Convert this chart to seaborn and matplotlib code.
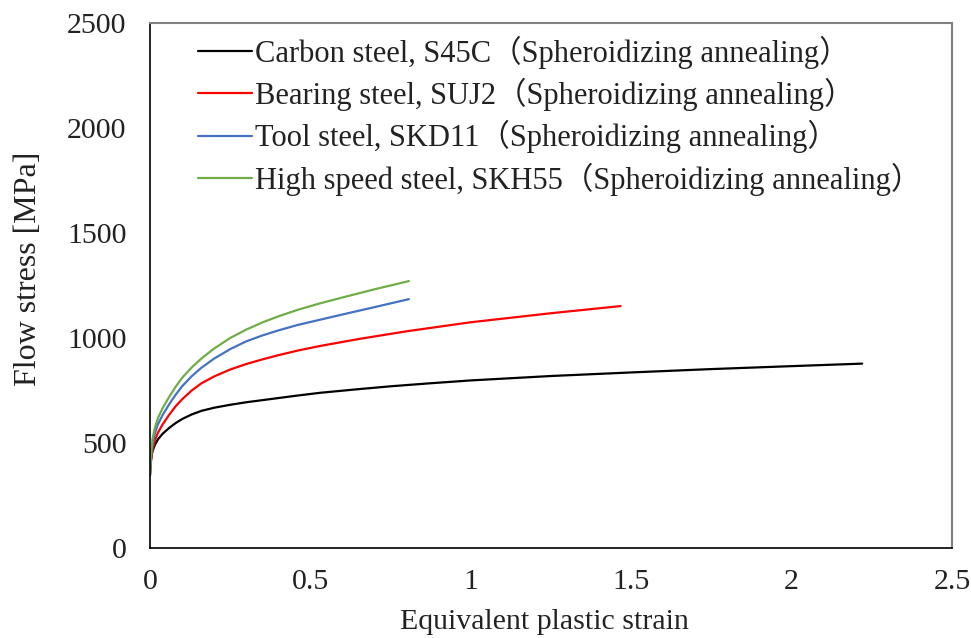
import numpy as np
import pandas as pd
import matplotlib
matplotlib.use("Agg")
import matplotlib.pyplot as plt
import seaborn as sns

# ---- data ----
labels = [
    "Carbon steel, S45C（Spheroidizing annealing）",
    "Bearing steel, SUJ2（Spheroidizing annealing）",
    "Tool steel, SKD11（Spheroidizing annealing）",
    "High speed steel, SKH55（Spheroidizing annealing）",
]
colors = ["#000000", "#FF0000", "#4472C4", "#70AD47"]

s45c_strain = [0, 0.002, 0.005, 0.008, 0.015, 0.025, 0.04, 0.06, 0.08, 0.1, 0.13, 0.16, 0.2, 0.25,
               0.3, 0.35, 0.4, 0.46, 0.53, 0.64, 0.75, 0.87, 1.0, 1.25, 1.5, 1.75, 2.0, 2.22]
s45c_stress = [350, 405, 440, 462, 490, 518, 545, 572, 595, 614, 636, 653, 668, 682,
               694, 704, 714, 726, 739, 755, 770, 784, 798, 819, 836, 852, 866, 878]

suj2_strain = [0, 0.002, 0.005, 0.008, 0.015, 0.025, 0.04, 0.06, 0.08, 0.1, 0.13, 0.16, 0.2, 0.25,
               0.3, 0.35, 0.4, 0.46, 0.53, 0.65, 0.8, 1.0, 1.25, 1.467]
suj2_stress = [345, 400, 440, 470, 512, 550, 590, 635, 675, 708, 750, 784, 817, 850,
               876, 898, 918, 940, 962, 995, 1032, 1075, 1118, 1152]

skd11_strain = [0, 0.002, 0.005, 0.008, 0.015, 0.025, 0.04, 0.06, 0.08, 0.1, 0.13, 0.16, 0.2, 0.25,
                0.3, 0.35, 0.4, 0.46, 0.53, 0.6, 0.7, 0.807]
skd11_stress = [345, 410, 460, 495, 545, 590, 635, 685, 730, 770, 818, 858, 902, 947,
                984, 1012, 1036, 1062, 1087, 1112, 1147, 1185]

skh55_strain = [0, 0.002, 0.005, 0.008, 0.015, 0.025, 0.04, 0.06, 0.08, 0.1, 0.13, 0.16, 0.2, 0.25,
                0.3, 0.35, 0.4, 0.46, 0.53, 0.6, 0.7, 0.807]
skh55_stress = [360, 425, 480, 520, 572, 620, 668, 720, 768, 810, 860, 902, 950, 1000,
                1040, 1074, 1103, 1134, 1165, 1193, 1232, 1271]

x_ticks = [0, 0.5, 1, 1.5, 2, 2.5]
x_ticklabels = ["0", "0.5", "1", "1.5", "2", "2.5"]
y_ticks = [0, 500, 1000, 1500, 2000, 2500]

series = [
    (labels[0], s45c_strain, s45c_stress),
    (labels[1], suj2_strain, suj2_stress),
    (labels[2], skd11_strain, skd11_stress),
    (labels[3], skh55_strain, skh55_stress),
]
frames = [pd.DataFrame({"strain": s, "stress": v, "material": name}) for name, s, v in series]
df = pd.concat(frames, ignore_index=True)

# ---- styling ----
sns.set_theme(style="white")
plt.rcParams["font.family"] = ["Liberation Serif", "Noto Sans CJK JP"]
plt.rcParams["font.size"] = 21

fig = plt.figure(figsize=(9.71, 6.38), dpi=100)
ax = fig.add_axes([150 / 971, 1 - 548 / 638, (952 - 150) / 971, (548 - 23) / 638])

sns.lineplot(data=df, x="strain", y="stress", hue="material", hue_order=labels,
             palette=dict(zip(labels, colors)), estimator=None, sort=False,
             linewidth=1.6, ax=ax)

ax.set_xlim(0, 2.5)
ax.set_ylim(0, 2500)
ax.set_xticks(x_ticks)
ax.set_xticklabels(x_ticklabels)
ax.set_yticks(y_ticks)
ax.tick_params(axis="both", direction="in", length=8, width=1, colors="black",
               labelsize=21.5, labelcolor="#222222")
ax.tick_params(axis="x", pad=15)
ax.tick_params(axis="y", pad=17)

for side in ["left", "bottom"]:
    ax.spines[side].set_color("black")
    ax.spines[side].set_linewidth(1.2)
for side in ["top", "right"]:
    ax.spines[side].set_color("#808080")
    ax.spines[side].set_linewidth(1.5)

ax.set_xlabel("Equivalent plastic strain", fontsize=21.5, color="#222222")
ax.set_ylabel("Flow stress [MPa]", fontsize=23, color="#222222")
ax.xaxis.set_label_coords(0.492, -0.117)
ax.yaxis.set_label_coords(-0.134, 0.531)

leg = ax.legend(loc="upper left", bbox_to_anchor=(0.037, 1.011), frameon=False,
                fontsize=22, handlelength=1.78, handletextpad=0.1, labelspacing=0.3,
                borderaxespad=0.2)
for t in leg.get_texts():
    t.set_color("#222222")

fig.savefig("out.png", dpi=100)
